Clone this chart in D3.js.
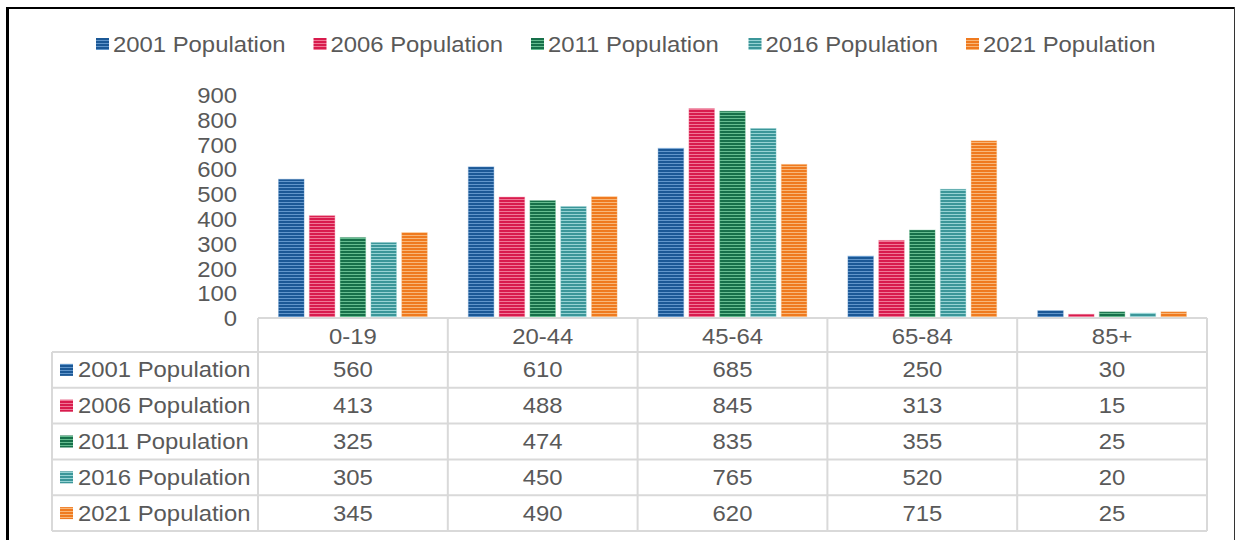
<!DOCTYPE html>
<html>
<head>
<meta charset="utf-8">
<script src="https://cdn.jsdelivr.net/npm/d3@7"></script>
<style>
  html, body { margin: 0; padding: 0; background: #fff; }
  svg { display: block; font-family: "Liberation Sans", Arial, sans-serif; }
</style>
</head>
<body>
<svg id="chart" width="1236" height="540"></svg>
<script>
// chart values
const categories = ["0-19", "20-44", "45-64", "65-84", "85+"];
const seriesNames = ["2001 Population", "2006 Population", "2011 Population", "2016 Population", "2021 Population"];
const pop2001 = [560, 610, 685, 250, 30];
const pop2006 = [413, 488, 845, 313, 15];
const pop2011 = [325, 474, 835, 355, 25];
const pop2016 = [305, 450, 765, 520, 20];
const pop2021 = [345, 490, 620, 715, 25];
const yTicks = [0, 100, 200, 300, 400, 500, 600, 700, 800, 900];

const seriesValues = [pop2001, pop2006, pop2011, pop2016, pop2021];
const darkColors = ["#1b5896", "#d81b4d", "#17704a", "#3b9699", "#ef7a1f"];
const lightColors = ["#6196cb", "#f07896", "#66bd90", "#96d3d4", "#f8b779"];

const textColor = "#595959";
const gridColor = "#d9d9d9";
const SX = 1.11; // text is a bit wider than normal in the reference
const FS = 21.5;

var svg = d3.select("#chart");

// stripe patterns for bars
var defs = svg.append("defs");
seriesNames.forEach(function (name, i) {
  var p = defs.append("pattern")
    .attr("id", "stripe" + i)
    .attr("patternUnits", "userSpaceOnUse")
    .attr("width", 6)
    .attr("height", 3);
  p.append("rect").attr("width", 6).attr("height", 3).attr("fill", darkColors[i]);
  p.append("rect").attr("y", 1).attr("width", 6).attr("height", 1).attr("fill", lightColors[i]);
});

// frame
svg.append("line").attr("x1", 7.5).attr("x2", 7.5).attr("y1", 7).attr("y2", 540)
  .attr("stroke", "#000").attr("stroke-width", 3);
svg.append("line").attr("x1", 6).attr("x2", 1235).attr("y1", 8).attr("y2", 8)
  .attr("stroke", "#000").attr("stroke-width", 2);
svg.append("line").attr("x1", 1234.5).attr("x2", 1234.5).attr("y1", 7).attr("y2", 540)
  .attr("stroke", "#333").attr("stroke-width", 1);

function addText(g, x, y, str, anchor) {
  return g.append("text")
    .attr("transform", "translate(" + x + "," + y + ") scale(" + SX + ",1)")
    .attr("text-anchor", anchor || "start")
    .attr("dy", "0.35em")
    .attr("font-size", FS + "px")
    .attr("fill", textColor)
    .text(str);
}

function addKey(g, x, y, i) {
  g.append("rect")
    .attr("x", x).attr("y", y - 6)
    .attr("width", 13).attr("height", 12)
    .attr("fill", "url(#stripe" + i + ")");
}

// scales
var plotLeft = 258, plotRight = 1207;
var xScale = d3.scaleBand().domain(categories).range([plotLeft, plotRight]).padding(0);
var xInner = d3.scaleBand().domain(d3.range(seriesNames.length))
  .range([20.5, xScale.bandwidth() - 20.5]).paddingInner(0.17).paddingOuter(0);
var yScale = d3.scaleLinear().domain([0, 900]).range([318, 95]);

// y axis (labels only)
var yAxis = svg.append("g")
  .attr("transform", "translate(" + plotLeft + ",0)")
  .call(d3.axisLeft(yScale).tickValues(yTicks).tickSize(0).tickPadding(0));
yAxis.select(".domain").remove();
yAxis.selectAll("text")
  .attr("x", null).attr("dy", null)
  .attr("font-size", FS + "px")
  .attr("font-family", "Liberation Sans, Arial, sans-serif")
  .attr("fill", textColor)
  .attr("dominant-baseline", "central")
  .attr("transform", "translate(-21,0) scale(" + SX + ",1)");

// bars
var barG = svg.append("g");
seriesValues.forEach(function (vals, i) {
  barG.selectAll(".bar" + i)
    .data(vals)
    .enter()
    .append("rect")
    .attr("class", "bar" + i)
    .attr("x", function (d, j) { return xScale(categories[j]) + xInner(i); })
    .attr("y", function (d) { return yScale(d); })
    .attr("width", xInner.bandwidth())
    .attr("height", function (d) { return yScale(0) - yScale(d); })
    .attr("fill", "url(#stripe" + i + ")")
    .attr("stroke", lightColors[i])
    .attr("stroke-opacity", 0.35)
    .attr("stroke-width", 1);
});

// legend
var legend = svg.append("g");
var legendStart = 96, legendStep = 217.5;
seriesNames.forEach(function (name, i) {
  var lx = legendStart + i * legendStep;
  addKey(legend, lx, 44, i);
  addText(legend, lx + 17, 44, name);
});

// data table
var table = svg.append("g");
var headerTop = 318, headerBottom = 352, rowH = 35.8;
var tableLeft = 52;
var rowTops = d3.range(seriesNames.length + 1).map(function (k) { return headerBottom + k * rowH; });
var tableBottom = rowTops[rowTops.length - 1];

// horizontal lines
table.append("line").attr("x1", plotLeft).attr("x2", plotRight)
  .attr("y1", headerTop).attr("y2", headerTop)
  .attr("stroke", gridColor).attr("stroke-width", 2);
rowTops.forEach(function (y) {
  table.append("line").attr("x1", tableLeft).attr("x2", plotRight)
    .attr("y1", y).attr("y2", y)
    .attr("stroke", gridColor).attr("stroke-width", 2);
});
// vertical lines
table.append("line").attr("x1", tableLeft).attr("x2", tableLeft)
  .attr("y1", headerBottom).attr("y2", tableBottom)
  .attr("stroke", gridColor).attr("stroke-width", 2);
categories.concat(["end"]).forEach(function (c, j) {
  var x = j < categories.length ? xScale(c) : plotRight;
  table.append("line").attr("x1", x).attr("x2", x)
    .attr("y1", headerTop).attr("y2", tableBottom)
    .attr("stroke", gridColor).attr("stroke-width", 2);
});

// header labels
categories.forEach(function (c) {
  addText(table, xScale(c) + xScale.bandwidth() / 2, (headerTop + headerBottom) / 2 + 1, c, "middle");
});

// rows
seriesNames.forEach(function (name, i) {
  var cy = rowTops[i] + rowH / 2;
  addKey(table, 60, cy, i);
  addText(table, 78, cy, name);
  seriesValues[i].forEach(function (v, j) {
    addText(table, xScale(categories[j]) + xScale.bandwidth() / 2, cy, v, "middle");
  });
});
</script>
</body>
</html>
